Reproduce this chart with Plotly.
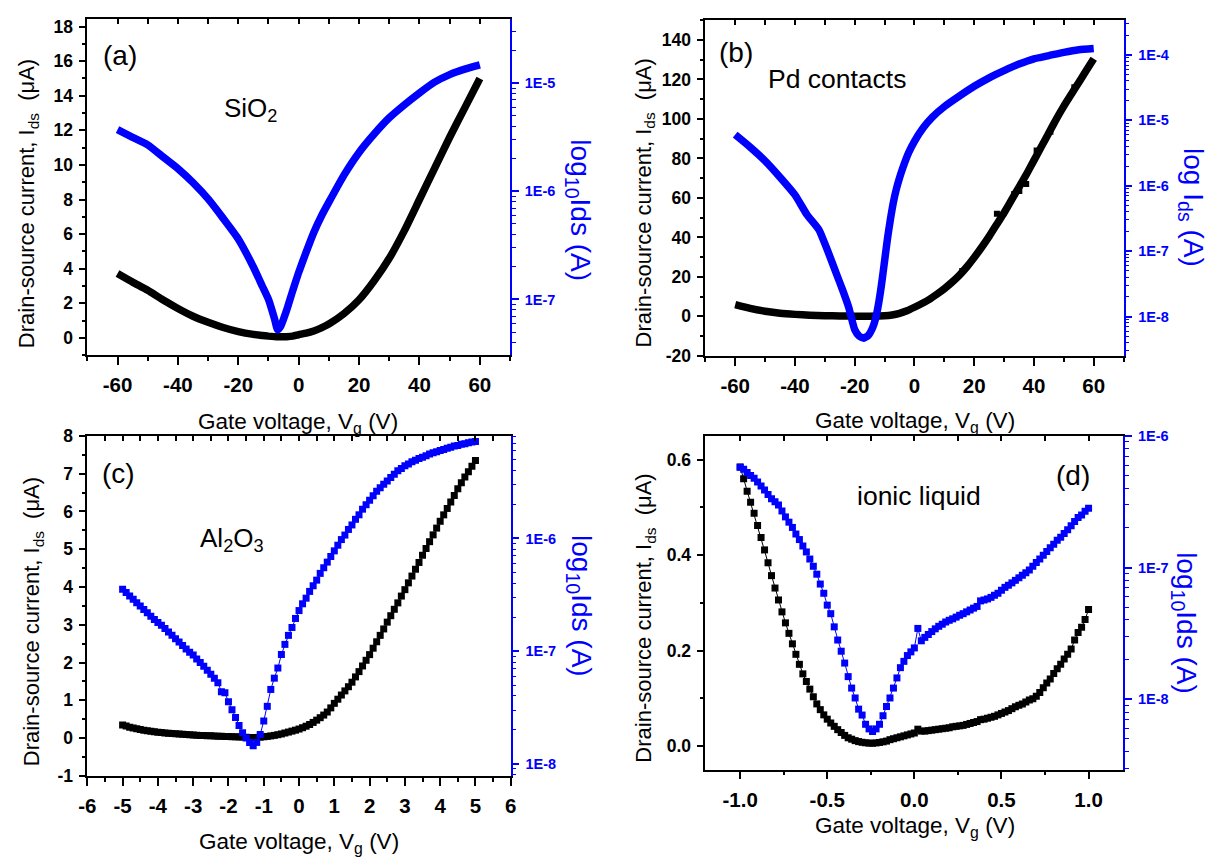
import plotly.graph_objects as go

W, H = 1218, 865
FONT = "Liberation Sans, Arial, sans-serif"
BLUE = "#0000ff"
BLACK = "#000000"

# ---------------- (a) SiO2 ----------------
a_vg = [-60, -55, -50, -45, -40, -35, -30, -25, -20, -15, -12, -10, -8, -7, -6, -4, -2, 0,
        2.5, 5, 7.5, 10, 15, 20, 25, 30, 35, 40, 45, 50, 55, 60]
a_ids_uA = [3.72, 3.22, 2.75, 2.2, 1.7, 1.25, 0.9, 0.6, 0.36, 0.2, 0.14, 0.1, 0.07, 0.06, 0.06, 0.07, 0.1, 0.18,
            0.27, 0.4, 0.58, 0.8, 1.4, 2.2, 3.3, 4.6, 6.2, 8.0, 9.8, 11.6, 13.3, 15.0]
a_log10_ids = [-5.43, -5.50, -5.57, -5.68, -5.79, -5.92, -6.07, -6.25, -6.44, -6.70, -6.88, -7.00, -7.18, -7.28,
               -7.25, -7.10, -6.92, -6.75, -6.56, -6.38, -6.23, -6.10, -5.85, -5.64, -5.47, -5.32, -5.20,
               -5.09, -4.99, -4.92, -4.87, -4.83]

# ---------------- (b) Pd contacts ----------------
b_vg_black = [-60, -55, -50, -45, -40, -35, -30, -25, -20, -15, -10, -7.5, -5, -2.5, 0, 2.5, 5, 7.5, 10,
              12.5, 15, 17.5, 20, 22.5, 25, 27.5, 30, 32.5, 35, 37.5, 40, 42.5, 45, 47.5, 50, 52.5, 55,
              57.5, 60]
b_ids_uA = [5.9, 4.0, 2.6, 1.6, 1.0, 0.6, 0.3, 0.2, 0.1, 0.1, 0.3, 0.7, 1.5, 2.8, 4.6, 6.5, 8.6, 11.2, 14.0,
            17.2, 20.8, 25.0, 29.8, 35.0, 40.5, 46.5, 52.5, 59.0, 65.5, 72.0, 79.0, 86.0, 93.0, 100.0, 106.5,
            112.5, 118.5, 124.5, 130.5]
b_out_vg = [16, 27.6, 33.4, 35.1, 37.4, 40.9, 45.5, 53.5]
b_out_uA = [23, 52, 62, 63.5, 67, 84, 93.5, 116]
b_vg_blue = [-60, -55, -50, -45, -40, -36, -32, -29, -26, -24, -22, -20, -18.5, -17, -15.5, -14, -13, -12,
             -11, -10, -9, -8, -7, -6, -5, -4, -2, 0, 3, 6, 10, 15, 20, 25, 30, 35, 40, 45, 50, 55, 60]
b_log10_ids = [-5.22, -5.41, -5.62, -5.87, -6.14, -6.44, -6.67, -7.00, -7.36, -7.60, -7.86, -8.20, -8.30,
               -8.33, -8.29, -8.17, -8.03, -7.80, -7.50, -7.15, -6.80, -6.50, -6.24, -6.04, -5.88, -5.74,
               -5.50, -5.32, -5.11, -4.95, -4.79, -4.63, -4.48, -4.35, -4.24, -4.14, -4.06, -4.01, -3.96,
               -3.92, -3.90]

# ---------------- (c) Al2O3 ----------------
c_vg = [-5.0, -4.9, -4.8, -4.7, -4.6, -4.5, -4.4, -4.3, -4.2, -4.1, -4.0, -3.9, -3.8, -3.7, -3.6, -3.5,
        -3.4, -3.3, -3.2, -3.1, -3.0, -2.9, -2.8, -2.7, -2.6, -2.5, -2.4, -2.3, -2.2, -2.1, -2.0, -1.9,
        -1.8, -1.7, -1.6, -1.5, -1.4, -1.3, -1.2, -1.1, -1.0, -0.9, -0.8, -0.7, -0.6, -0.5, -0.4, -0.3,
        -0.2, -0.1, 0.0, 0.1, 0.2, 0.3, 0.4, 0.5, 0.6, 0.7, 0.8, 0.9, 1.0, 1.1, 1.2, 1.3, 1.4, 1.5, 1.6,
        1.7, 1.8, 1.9, 2.0, 2.1, 2.2, 2.3, 2.4, 2.5, 2.6, 2.7, 2.8, 2.9, 3.0, 3.1, 3.2, 3.3, 3.4, 3.5,
        3.6, 3.7, 3.8, 3.9, 4.0, 4.1, 4.2, 4.3, 4.4, 4.5, 4.6, 4.7, 4.8, 4.9, 5.0]
c_ids_uA = [0.35, 0.32, 0.29, 0.27, 0.245, 0.225, 0.21, 0.195, 0.18, 0.168, 0.157, 0.147, 0.138, 0.13,
            0.122, 0.114, 0.107, 0.1, 0.094, 0.088, 0.082, 0.077, 0.072, 0.068, 0.064, 0.06, 0.056, 0.052,
            0.048, 0.045, 0.042, 0.038, 0.034, 0.03, 0.026, 0.022, 0.018, 0.015, 0.018, 0.025, 0.035,
            0.045, 0.058, 0.072, 0.09, 0.11, 0.135, 0.16, 0.185, 0.21, 0.24, 0.275, 0.315, 0.36, 0.415,
            0.475, 0.54, 0.61, 0.69, 0.8, 0.92, 1.03, 1.14, 1.25, 1.36, 1.48, 1.62, 1.76, 1.91, 2.06, 2.21,
            2.38, 2.55, 2.72, 2.89, 3.07, 3.24, 3.41, 3.58, 3.76, 3.93, 4.11, 4.29, 4.47, 4.65, 4.84, 5.02,
            5.2, 5.38, 5.56, 5.74, 5.91, 6.08, 6.25, 6.42, 6.6, 6.76, 6.91, 7.05, 7.2, 7.35]
c_log10_ids = [-6.45, -6.48, -6.51, -6.54, -6.57, -6.60, -6.63, -6.66, -6.69, -6.72, -6.745, -6.77, -6.80,
               -6.83, -6.86, -6.89, -6.92, -6.95, -6.98, -7.01, -7.035, -7.07, -7.10, -7.135, -7.17, -7.205,
               -7.24, -7.28, -7.36, -7.37, -7.45, -7.52, -7.59, -7.66, -7.725, -7.77, -7.81, -7.84, -7.81,
               -7.74, -7.62, -7.49, -7.34, -7.24, -7.15, -7.03, -6.94, -6.86, -6.79, -6.71, -6.64, -6.58,
               -6.53, -6.47, -6.42, -6.37, -6.31, -6.26, -6.21, -6.16, -6.11, -6.06, -6.01, -5.97, -5.92,
               -5.88, -5.83, -5.79, -5.74, -5.70, -5.66, -5.62, -5.58, -5.55, -5.52, -5.49, -5.46, -5.43,
               -5.40, -5.38, -5.355, -5.34, -5.32, -5.305, -5.29, -5.28, -5.265, -5.25, -5.24, -5.23, -5.22,
               -5.21, -5.20, -5.19, -5.18, -5.175, -5.165, -5.16, -5.15, -5.145, -5.14]

# ---------------- (d) ionic liquid ----------------
d_vg = [-1.00, -0.98, -0.96, -0.94, -0.92, -0.90, -0.88, -0.86, -0.84, -0.82, -0.80, -0.78, -0.76, -0.74,
        -0.72, -0.70, -0.68, -0.66, -0.64, -0.62, -0.60, -0.58, -0.56, -0.54, -0.52, -0.50, -0.48, -0.46,
        -0.44, -0.42, -0.40, -0.38, -0.36, -0.34, -0.32, -0.30, -0.28, -0.26, -0.24, -0.22, -0.20, -0.18,
        -0.16, -0.14, -0.12, -0.10, -0.08, -0.06, -0.04, -0.02, 0.00, 0.02, 0.04, 0.06, 0.08, 0.10, 0.12,
        0.14, 0.16, 0.18, 0.20, 0.22, 0.24, 0.26, 0.28, 0.30, 0.32, 0.34, 0.36, 0.38, 0.40, 0.42, 0.44,
        0.46, 0.48, 0.50, 0.52, 0.54, 0.56, 0.58, 0.60, 0.62, 0.64, 0.66, 0.68, 0.70, 0.72, 0.74, 0.76,
        0.78, 0.80, 0.82, 0.84, 0.86, 0.88, 0.90, 0.92, 0.94, 0.96, 0.98, 1.00]
d_ids_uA = [0.585, 0.560, 0.534, 0.511, 0.488, 0.462, 0.437, 0.411, 0.384, 0.357, 0.331, 0.306, 0.281,
            0.258, 0.236, 0.214, 0.192, 0.171, 0.151, 0.135, 0.119, 0.103, 0.088, 0.076, 0.065, 0.056,
            0.048, 0.041, 0.034, 0.028, 0.022, 0.017, 0.014, 0.011, 0.009, 0.0075, 0.0065, 0.0058, 0.0055,
            0.0062, 0.0072, 0.0085, 0.010, 0.013, 0.015, 0.017, 0.019, 0.021, 0.023, 0.025, 0.027, 0.035,
            0.031, 0.031, 0.032, 0.033, 0.034, 0.035, 0.036, 0.037, 0.038, 0.040, 0.041, 0.042, 0.043,
            0.045, 0.047, 0.049, 0.051, 0.055, 0.056, 0.058, 0.060, 0.062, 0.065, 0.068, 0.071, 0.074,
            0.078, 0.082, 0.085, 0.088, 0.092, 0.096, 0.099, 0.104, 0.112, 0.122, 0.132, 0.140, 0.152,
            0.162, 0.171, 0.182, 0.192, 0.203, 0.222, 0.238, 0.249, 0.265, 0.286]
d_log10_ids = [-6.237, -6.254, -6.278, -6.300, -6.322, -6.350, -6.380, -6.410, -6.444, -6.478, -6.500,
               -6.525, -6.570, -6.615, -6.655, -6.695, -6.745, -6.787, -6.836, -6.881, -6.935, -6.990,
               -7.050, -7.125, -7.195, -7.285, -7.350, -7.450, -7.550, -7.635, -7.725, -7.828, -7.915,
               -7.990, -8.075, -8.120, -8.190, -8.225, -8.245, -8.225, -8.190, -8.125, -8.055, -7.990,
               -7.915, -7.838, -7.760, -7.712, -7.668, -7.640, -7.610, -7.462, -7.556, -7.530, -7.508,
               -7.486, -7.465, -7.446, -7.430, -7.413, -7.400, -7.389, -7.376, -7.362, -7.350, -7.336,
               -7.322, -7.308, -7.295, -7.253, -7.246, -7.238, -7.226, -7.210, -7.195, -7.172, -7.150,
               -7.134, -7.116, -7.097, -7.078, -7.058, -7.040, -7.018, -6.990, -6.962, -6.935, -6.906,
               -6.878, -6.850, -6.822, -6.793, -6.770, -6.741, -6.712, -6.683, -6.650, -6.620, -6.600,
               -6.572, -6.550]

# ---------------- tick labels ----------------
ab_xtick_vals = [-60, -40, -20, 0, 20, 40, 60]
ab_xtick_text = ["-60", "-40", "-20", "0", "20", "40", "60"]
a_ytick_vals = [0, 2, 4, 6, 8, 10, 12, 14, 16, 18]
a_ytick_text = ["0", "2", "4", "6", "8", "10", "12", "14", "16", "18"]
b_ytick_vals = [-20, 0, 20, 40, 60, 80, 100, 120, 140]
b_ytick_text = ["-20", "0", "20", "40", "60", "80", "100", "120", "140"]
c_xtick_vals = [-6, -5, -4, -3, -2, -1, 0, 1, 2, 3, 4, 5, 6]
c_xtick_text = ["-6", "-5", "-4", "-3", "-2", "-1", "0", "1", "2", "3", "4", "5", "6"]
c_ytick_vals = [-1, 0, 1, 2, 3, 4, 5, 6, 7, 8]
c_ytick_text = ["-1", "0", "1", "2", "3", "4", "5", "6", "7", "8"]
d_xtick_vals = [-1.0, -0.5, 0.0, 0.5, 1.0]
d_xtick_text = ["-1.0", "-0.5", "0.0", "0.5", "1.0"]
d_ytick_vals = [0.0, 0.2, 0.4, 0.6]
d_ytick_text = ["0.0", "0.2", "0.4", "0.6"]
log_tick_exps = [-8, -7, -6, -5, -4]
log_tick_text = ["1E-8", "1E-7", "1E-6", "1E-5", "1E-4"]


def bold(lst):
    return ["<b>" + t + "</b>" for t in lst]


# ---------------- layout geometry (pixels) ----------------
panels = [
    dict(xpx=(79.3, 507.3), ypx=(9.0, 353.3), xr=[-70, 70], xv=ab_xtick_vals, xt=ab_xtick_text, xmin=10,
         yr=[-1, 18.45], yv=a_ytick_vals, yt=a_ytick_text, ymin=1, logr=[-7.515, -4.404], logt=[-7, -6, -5]),
    dict(xpx=(705.0, 1128.5), ypx=(10.5, 354.0), xr=[-70, 70], xv=ab_xtick_vals, xt=ab_xtick_text, xmin=10,
         yr=[-20, 150], yv=b_ytick_vals, yt=b_ytick_text, ymin=10, logr=[-8.6, -3.47], logt=[-8, -7, -6, -5, -4]),
    dict(xpx=(79.3, 508.0), ypx=(436.0, 784.0), xr=[-6, 6], xv=c_xtick_vals, xt=c_xtick_text, xmin=0.5,
         yr=[-1, 8], yv=c_ytick_vals, yt=c_ytick_text, ymin=0.5, logr=[-8.107, -5.09], logt=[-8, -7, -6]),
    dict(xpx=(705.0, 1128.3), ypx=(436.0, 777.7), xr=[-1.2, 1.2], xv=d_xtick_vals, xt=d_xtick_text, xmin=0.25,
         yr=[-0.05, 0.65], yv=d_ytick_vals, yt=d_ytick_text, ymin=0.1, logr=[-8.535, -6.0], logt=[-8, -7, -6]),
]

fig = go.Figure()
layout = dict(width=W, height=H, margin=dict(l=0, r=0, t=0, b=0),
              paper_bgcolor="white", plot_bgcolor="white", showlegend=False,
              font=dict(family=FONT, color=BLACK))

for i, p in enumerate(panels):
    n = i + 1
    xd = [p["xpx"][0] / W, p["xpx"][1] / W]
    yd = [1 - p["ypx"][1] / H, 1 - p["ypx"][0] / H]
    xs = "" if n == 1 else str(n)
    layout["xaxis" + xs] = dict(
        domain=xd, range=p["xr"], anchor="y" + xs, showgrid=False, zeroline=False,
        showline=True, linecolor=BLACK, linewidth=1.5, ticks="outside", ticklen=8, tickwidth=1.5,
        tickcolor=BLACK, tickmode="array", tickvals=p["xv"], ticktext=bold(p["xt"]), ticklabelstandoff=3,
        tickfont=dict(family=FONT, size=20.5, color=BLACK),
        minor=dict(dtick=p["xmin"], tick0=0, ticks="outside", ticklen=4, tickwidth=1.5, tickcolor=BLACK),
    )
    layout["yaxis" + xs] = dict(
        domain=yd, range=p["yr"], anchor="x" + xs, showgrid=False, zeroline=False,
        showline=True, linecolor=BLACK, linewidth=1.5, ticks="outside", ticklen=7, tickwidth=1.5,
        tickcolor=BLACK, tickmode="array", tickvals=p["yv"], ticktext=bold(p["yt"]), ticklabelstandoff=2,
        tickfont=dict(family=FONT, size=17.5, color=BLACK),
        minor=dict(dtick=p["ymin"], tick0=0, ticks="outside", ticklen=4, tickwidth=1.5, tickcolor=BLACK),
    )
    # top mirrored axis with inward ticks
    layout["xaxis" + str(n + 4)] = dict(
        overlaying="x" + xs, side="top", anchor="y" + xs, range=p["xr"], showgrid=False,
        zeroline=False, showline=True, linecolor=BLACK, linewidth=1.5, ticks="inside", ticklen=5,
        tickwidth=1.5, tickcolor=BLACK, dtick=p["xmin"], tick0=0, showticklabels=False,
    )
    # right log axis
    tv = [10.0 ** e for e in p["logt"]]
    tt = [log_tick_text[log_tick_exps.index(e)] for e in p["logt"]]
    layout["yaxis" + str(n + 4)] = dict(
        overlaying="y" + xs, side="right", anchor="x" + xs, type="log", range=p["logr"],
        showgrid=False, zeroline=False, showline=True, linecolor=BLUE, linewidth=1.5,
        ticks="outside", ticklen=7, tickwidth=1.5, tickcolor=BLUE, tickmode="array",
        tickvals=tv, ticktext=bold(tt), ticklabelstandoff=3,
        tickfont=dict(family=FONT, size=14.5, color=BLUE),
        minor=dict(dtick="D1", ticks="outside", ticklen=4, tickwidth=1.2, tickcolor=BLUE),
    )


# ---------------- traces ----------------
def add_pair(n, xb, yb, xl, ylog, mode, size):
    xs = "" if n == 1 else str(n)
    if mode == "lines":
        fig.add_trace(go.Scatter(x=xb, y=yb, mode="lines", xaxis="x" + xs, yaxis="y" + xs,
                                 line=dict(color=BLACK, width=size, shape="spline", smoothing=0.5),
                                 hoverinfo="skip"))
        fig.add_trace(go.Scatter(x=[None], y=[None], xaxis="x" + str(n + 4), yaxis="y" + xs,
                                 mode="markers", hoverinfo="skip"))
        fig.add_trace(go.Scatter(x=xl, y=[10.0 ** v for v in ylog], mode="lines",
                                 xaxis="x" + xs, yaxis="y" + str(n + 4),
                                 line=dict(color=BLUE, width=size, shape="spline", smoothing=0.5),
                                 hoverinfo="skip"))
    else:
        fig.add_trace(go.Scatter(x=xb, y=yb, mode="lines+markers", xaxis="x" + xs, yaxis="y" + xs,
                                 line=dict(color=BLACK, width=1),
                                 marker=dict(symbol="square", size=size, color=BLACK), hoverinfo="skip"))
        fig.add_trace(go.Scatter(x=[None], y=[None], xaxis="x" + str(n + 4), yaxis="y" + xs,
                                 mode="markers", hoverinfo="skip"))
        fig.add_trace(go.Scatter(x=xl, y=[10.0 ** v for v in ylog], mode="lines+markers",
                                 xaxis="x" + xs, yaxis="y" + str(n + 4),
                                 line=dict(color=BLUE, width=1),
                                 marker=dict(symbol="square", size=size, color=BLUE), hoverinfo="skip"))


add_pair(1, a_vg, a_ids_uA, a_vg, a_log10_ids, "lines", 7.5)
add_pair(2, b_vg_black, b_ids_uA, b_vg_blue, b_log10_ids, "lines", 7.5)
fig.add_trace(go.Scatter(x=b_out_vg, y=b_out_uA, mode="markers", xaxis="x2", yaxis="y2",
                         marker=dict(symbol="square", size=6, color=BLACK), hoverinfo="skip"))
add_pair(3, c_vg, c_ids_uA, c_vg, c_log10_ids, "markers", 7)
add_pair(4, d_vg, d_ids_uA, d_vg, d_log10_ids, "markers", 7)


# ---------------- text ----------------
def ann(text, px, py, size, color=BLACK, angle=0):
    return dict(text=text, x=px / W, y=1 - py / H, xref="paper", yref="paper", showarrow=False,
                xanchor="center", yanchor="middle", textangle=angle,
                font=dict(family=FONT, size=size, color=color))


left_title = "Drain-source current, I<sub>ds</sub>  (\u03bcA)"
gate_title = "Gate voltage, V<sub>g</sub> (V)"
log10_title = "log<sub>10</sub>Ids (A)"
logI_title = "log I<sub>ds</sub> (A)"

annotations = [
    ann(left_title, 20, 198, 22, angle=-90),
    ann(left_title, 644, 198, 22, angle=-90),
    ann(left_title, 24, 626, 22, angle=-90),
    ann(left_title, 644, 623, 22, angle=-90),
    ann(gate_title, 293, 423, 22.5),
    ann(gate_title, 917, 422, 22.5),
    ann(gate_title, 294, 853, 22.5),
    ann(gate_title, 917, 836, 22.5),
    ann(log10_title, 577, 205, 28, BLUE, 90),
    ann(logI_title, 1197, 202, 28, BLUE, 90),
    ann(log10_title, 577, 610, 28, BLUE, 90),
    ann(log10_title, 1190, 628, 28, BLUE, 90),
    ann("(a)", 112, 47, 28),
    ann("SiO<sub>2</sub>", 245, 102, 26),
    ann("(b)", 736, 43, 28),
    ann("Pd contacts", 838, 71, 26.5),
    ann("(c)", 111, 474, 28),
    ann("Al<sub>2</sub>O<sub>3</sub>", 226, 542, 26),
    ann("(d)", 1077, 477, 28),
    ann("ionic liquid", 921, 497, 26.5),
]
layout["annotations"] = annotations
fig.update_layout(**layout)

fig.write_html("out.html")
